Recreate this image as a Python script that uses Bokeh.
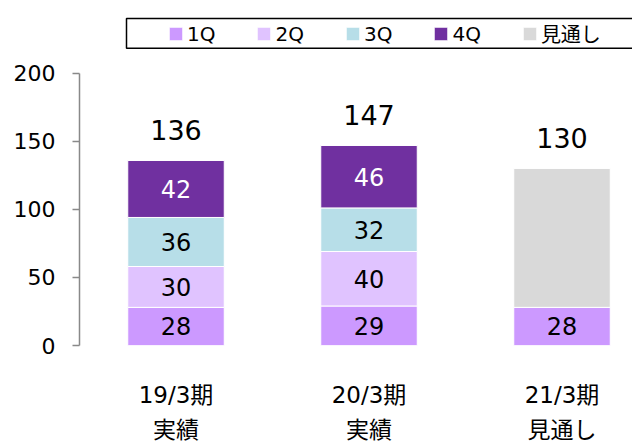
from bokeh.plotting import figure
from bokeh.models import (ColumnDataSource, Range1d, FixedTicker, Legend, LegendItem, Label)
from bokeh.core.properties import value
from bokeh.embed import file_html
from bokeh.resources import INLINE

# ---------------- data ----------------
categories = ["19/3期\n実績", "20/3期\n実績", "21/3期\n見通し"]
series_names = ["1Q", "2Q", "3Q", "4Q", "見通し"]
q1 = [28, 29, 28]
q2 = [30, 40, 0]
q3 = [36, 32, 0]
q4 = [42, 46, 0]
totals = [136, 147, 130]
y_ticks = [0, 50, 100, 150, 200]
unit_label = "(億円)"

# forecast remainder = total minus the quarters already booked
forecast = [t - (a + b + c + d) for t, a, b, c, d in zip(totals, q1, q2, q3, q4)]

colors = ["#CC99FF", "#E0C3FF", "#B7DEE8", "#7030A0", "#D9D9D9"]
text_colors = ["black", "black", "black", "white"]
FONT = "DejaVu Sans, Noto Sans CJK JP"

# ---------------- geometry ----------------
W, H = 632, 445
LEFT = 79
FRAME_H = 347
PX_PER_UNIT = 1.37
PX_PER_CAT = 193
x_start = 0.5
x_end = x_start + (W - LEFT) / PX_PER_CAT
y_end = FRAME_H / PX_PER_UNIT


def xd(cx):
    return x_start + (cx - LEFT) / PX_PER_CAT


def yd(cy):
    return (FRAME_H - cy) / PX_PER_UNIT


xs = list(range(1, len(categories) + 1))
src = ColumnDataSource(dict(x=xs, q1=q1, q2=q2, q3=q3, q4=q4, fc=forecast))

p = figure(width=W, height=H, output_backend="svg", toolbar_location=None,
           x_range=Range1d(x_start, x_end), y_range=Range1d(0, y_end),
           min_border_left=LEFT, min_border_right=0, min_border_top=0,
           min_border_bottom=H - FRAME_H)
p.outline_line_color = None
p.grid.visible = False
p.background_fill_color = "white"
p.border_fill_color = "white"

renderers = p.vbar_stack(["q1", "q2", "q3", "q4", "fc"], x="x", width=0.5, source=src,
                         fill_color=colors, line_color="white", line_width=1)

# segment labels
seg_x, seg_y, seg_t, seg_c = [], [], [], []
series = [q1, q2, q3, q4]
for i in range(len(categories)):
    base = 0
    for s, col in zip(series, text_colors):
        v = s[i]
        if v > 0:
            seg_x.append(xs[i])
            seg_y.append(base + v / 2)
            seg_t.append(str(v))
            seg_c.append(col)
        base += v
p.text(x=seg_x, y=seg_y, text=seg_t, text_color=seg_c, text_align="center",
       text_baseline="middle", text_font=value(FONT), text_font_size="24px")

# totals
p.text(x=xs, y=totals, text=[str(t) for t in totals], text_align="center",
       text_baseline="alphabetic", y_offset=-30, text_color="black",
       text_font=value(FONT), text_font_size="27px")

# y axis
ya = p.yaxis[0]
ya.ticker = FixedTicker(ticks=y_ticks)
ya.bounds = (0, 200)
ya.axis_line_color = "#898989"
ya.axis_line_width = 1.5
ya.major_tick_line_color = "#898989"
ya.major_tick_line_width = 1.5
ya.major_tick_out = 7
ya.major_tick_in = 0
ya.minor_tick_line_color = None
ya.major_label_standoff = 17
ya.major_label_text_font = FONT
ya.major_label_text_font_size = "22px"
ya.major_label_text_color = "black"

# x axis
xa = p.xaxis[0]
xa.ticker = FixedTicker(ticks=xs)
xa.major_label_overrides = {x: c for x, c in zip(xs, categories)}
xa.axis_line_color = None
xa.major_tick_line_color = None
xa.minor_tick_line_color = None
xa.major_label_standoff = 30
xa.major_label_text_font = FONT
xa.major_label_text_font_size = "23px"
xa.major_label_text_color = "black"
xa.major_label_text_line_height = 1.35

# unit label
p.add_layout(Label(x=xd(9), y=yd(25), text=unit_label, text_align="left",
                   text_baseline="middle", text_font=FONT, text_font_size="22px",
                   text_color="black"))

# legend frame (open on the right, where the original box runs off the picture)
bx_l, bx_r, bx_t, bx_b = xd(126), x_end + 0.5, yd(18), yd(48)
p.line(x=[bx_r, bx_l, bx_l, bx_r], y=[bx_t, bx_t, bx_b, bx_b],
       line_color="black", line_width=1.5)

legend = Legend(items=[LegendItem(label=n, renderers=[r]) for n, r in zip(series_names, renderers)],
                orientation="horizontal", location=(88, 297), padding=0, margin=0,
                spacing=40, glyph_width=17, glyph_height=17, label_standoff=3,
                label_height=17, label_text_font=FONT, label_text_font_size="20px",
                label_text_color="black",
                border_line_color=None, background_fill_alpha=0)
p.add_layout(legend)

open("out.html", "w").write(file_html(p, INLINE))
